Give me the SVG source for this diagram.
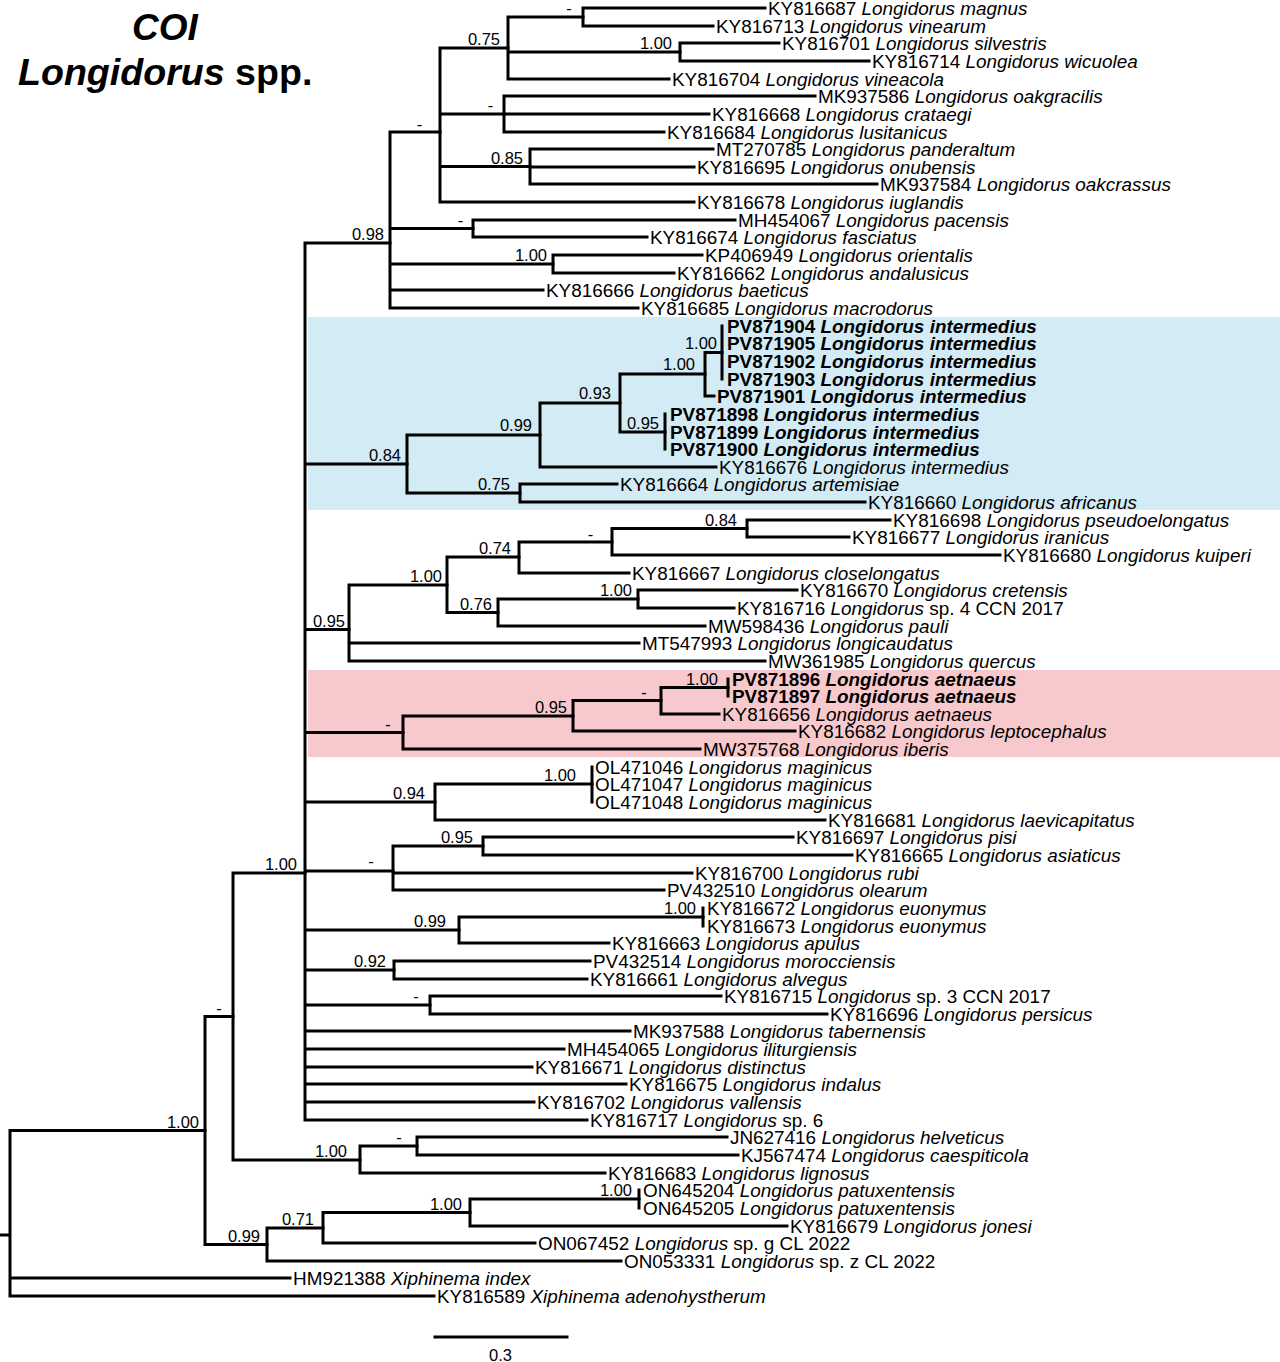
<svg xmlns="http://www.w3.org/2000/svg" width="1280" height="1362" viewBox="0 0 1280 1362">
<style>
.br{fill:none;stroke:#000;stroke-width:3;stroke-linecap:square}
text{font-family:"Liberation Sans",Arial,Helvetica,sans-serif;fill:#000}
.t{font-size:18.9px}
.i{font-style:italic}
.b{font-weight:bold}
.s{font-size:16.5px;text-anchor:end}
.d{font-size:16.5px;text-anchor:middle}
.ti{font-size:37px;font-weight:bold}
</style>
<rect x="308" y="317" width="972" height="193" fill="#d3ebf5"/>
<rect x="308" y="670" width="972" height="87" fill="#f8c9cc"/>
<g id="title">
<text class="ti i" x="165" y="40" text-anchor="middle">COI</text>
<text class="ti" x="18" y="85" style="font-size:37.6px"><tspan class="i">Longidorus</tspan> spp.</text>
</g>
<g id="connectors" class="br">
<path d="M0,1235H10M10,1130.5V1296M10,1130.5H205M10,1278H290M10,1296H434"/>
<path d="M205,1016.5V1244.5M205,1016.5H233M205,1244.5H267"/>
<path d="M233,873V1160M233,873H305M233,1160H360"/>
<path d="M305,243V1120M305,243H390M305,464H407M305,629.5H349M305,732.5H403M305,802H435M305,871H393M305,930H459M305,970H394M305,1005H430M305,1031H630M305,1049H564M305,1067H532M305,1084H626M305,1102H534M305,1120H587"/>
<path d="M390,132V308M390,132H440M390,228.5H473M390,264H553M390,290H543M390,308H638"/>
<path d="M440,48V202M440,48H508M440,114H504M440,166.5H530M440,202H694"/>
<path d="M508,17V79M508,17H583M508,52H680M508,79H669"/>
<path d="M583,8V26M583,8H765M583,26H713"/>
<path d="M680,43V61M680,43H779M680,61H869"/>
<path d="M504,96V132M504,96H815M504,114H709M504,132H664"/>
<path d="M530,149V184M530,149H713M530,167H694M530,184H877"/>
<path d="M473,220V237M473,220H735M473,237H647"/>
<path d="M553,255V273M553,255H702M553,273H674"/>
<path d="M407,435V493M407,435H540M407,493H520"/>
<path d="M540,403V467M540,403H620M540,467H716"/>
<path d="M620,374V432M620,374H705M620,432H665"/>
<path d="M705,352.5V396M705,352.5H722M705,396H714"/>
<path d="M722,326V379"/>
<path d="M665,414V449"/>
<path d="M520,484V502M520,484H617M520,502H865"/>
<path d="M349,585V661M349,585H447M349,643H639M349,661H765"/>
<path d="M447,557V612.5M447,557H519M447,612.5H498"/>
<path d="M519,542V573M519,542H612M519,573H629"/>
<path d="M612,528.5V555M612,528.5H747M612,555H1000"/>
<path d="M747,520V537M747,520H890M747,537H849"/>
<path d="M498,599V626M498,599H638M498,626H705"/>
<path d="M638,590V608M638,590H797M638,608H734"/>
<path d="M403,716V749M403,716H573M403,749H700"/>
<path d="M573,700.5V731M573,700.5H661M573,731H795"/>
<path d="M661,687.5V714M661,687.5H728M661,714H719"/>
<path d="M728,679V696"/>
<path d="M435,784V820M435,784H592M435,820H825"/>
<path d="M592,767V802"/>
<path d="M393,846V890M393,846H483M393,873H692M393,890H664"/>
<path d="M483,837V855M483,837H793M483,855H852"/>
<path d="M459,917V943M459,917H703M459,943H609"/>
<path d="M703,908V926"/>
<path d="M394,961V979M394,961H590M394,979H587"/>
<path d="M430,996V1014M430,996H721M430,1014H827"/>
<path d="M360,1146V1173M360,1146H417M360,1173H605"/>
<path d="M417,1137V1155M417,1137H727M417,1155H738"/>
<path d="M267,1228V1261M267,1228H323M267,1261H621"/>
<path d="M323,1212.5V1243M323,1212.5H470M323,1243H535"/>
<path d="M470,1199V1226M470,1199H639M470,1226H787"/>
<path d="M639,1190V1208"/>
</g>
<g id="supports">
<g id="nA"><text class="s" x="199" y="1127.5">1.00</text></g>
<g id="nB"><text class="d" x="219" y="1013.5">-</text></g>
<g id="nC"><text class="s" x="297" y="870">1.00</text></g>
<g id="n098"><text class="s" x="384" y="240">0.98</text></g>
<g id="n440"><text class="d" x="419.5" y="130">-</text></g>
<g id="n508"><text class="s" x="500" y="45">0.75</text></g>
<g id="n583"><text class="d" x="569" y="14">-</text></g>
<g id="n680"><text class="s" x="672" y="49">1.00</text></g>
<g id="n504"><text class="d" x="490.5" y="111">-</text></g>
<g id="n530"><text class="s" x="523" y="163.5">0.85</text></g>
<g id="n473"><text class="d" x="460.5" y="225.5">-</text></g>
<g id="n553"><text class="s" x="547" y="261">1.00</text></g>
<g id="n407"><text class="s" x="401" y="461">0.84</text></g>
<g id="n540"><text class="s" x="532" y="431">0.99</text></g>
<g id="n620"><text class="s" x="611" y="399">0.93</text></g>
<g id="n705"><text class="s" x="695" y="370">1.00</text></g>
<g id="n722"><text class="s" x="717" y="349">1.00</text></g>
<g id="n665"><text class="s" x="659" y="429">0.95</text></g>
<g id="n520"><text class="s" x="510" y="490">0.75</text></g>
<g id="n349"><text class="s" x="345" y="626.5">0.95</text></g>
<g id="n447"><text class="s" x="442" y="582">1.00</text></g>
<g id="n519"><text class="s" x="511" y="554">0.74</text></g>
<g id="n612"><text class="d" x="590.5" y="539.5">-</text></g>
<g id="n747"><text class="s" x="737" y="525.5">0.84</text></g>
<g id="n498"><text class="s" x="492" y="609.5">0.76</text></g>
<g id="n638"><text class="s" x="632" y="596">1.00</text></g>
<g id="n403"><text class="d" x="388" y="729.5">-</text></g>
<g id="n573"><text class="s" x="567" y="713">0.95</text></g>
<g id="n661"><text class="d" x="644" y="697.5">-</text></g>
<g id="n728"><text class="s" x="718" y="684.5">1.00</text></g>
<g id="n435"><text class="s" x="425" y="799">0.94</text></g>
<g id="n592"><text class="s" x="576" y="781">1.00</text></g>
<g id="n393"><text class="d" x="371" y="867">-</text></g>
<g id="n483"><text class="s" x="473" y="843">0.95</text></g>
<g id="n459"><text class="s" x="446" y="927">0.99</text></g>
<g id="n703"><text class="s" x="696" y="914">1.00</text></g>
<g id="n394"><text class="s" x="386" y="967">0.92</text></g>
<g id="n430"><text class="d" x="416" y="1002">-</text></g>
<g id="n360"><text class="s" x="347" y="1156.5">1.00</text></g>
<g id="n417"><text class="d" x="399" y="1143">-</text></g>
<g id="n267"><text class="s" x="260" y="1241.5">0.99</text></g>
<g id="n323"><text class="s" x="314" y="1225">0.71</text></g>
<g id="n470"><text class="s" x="462" y="1209.5">1.00</text></g>
<g id="n639"><text class="s" x="632" y="1196">1.00</text></g>
</g>
<g id="leaves" class="t">
<g id="L01"><text class="t" x="768" y="14.5">KY816687 <tspan class="i">Longidorus magnus</tspan></text></g>
<g id="L02"><text class="t" x="716" y="32.5">KY816713 <tspan class="i">Longidorus vinearum</tspan></text></g>
<g id="L03"><text class="t" x="782" y="49.5">KY816701 <tspan class="i">Longidorus silvestris</tspan></text></g>
<g id="L04"><text class="t" x="872" y="67.5">KY816714 <tspan class="i">Longidorus wicuolea</tspan></text></g>
<g id="L05"><text class="t" x="672" y="85.5">KY816704 <tspan class="i">Longidorus vineacola</tspan></text></g>
<g id="L06"><text class="t" x="818" y="102.5">MK937586 <tspan class="i">Longidorus oakgracilis</tspan></text></g>
<g id="L07"><text class="t" x="712" y="120.5">KY816668 <tspan class="i">Longidorus crataegi</tspan></text></g>
<g id="L08"><text class="t" x="667" y="138.5">KY816684 <tspan class="i">Longidorus lusitanicus</tspan></text></g>
<g id="L09"><text class="t" x="716" y="155.5">MT270785 <tspan class="i">Longidorus panderaltum</tspan></text></g>
<g id="L10"><text class="t" x="697" y="173.5">KY816695 <tspan class="i">Longidorus onubensis</tspan></text></g>
<g id="L11"><text class="t" x="880" y="190.5">MK937584 <tspan class="i">Longidorus oakcrassus</tspan></text></g>
<g id="L12"><text class="t" x="697" y="208.5">KY816678 <tspan class="i">Longidorus iuglandis</tspan></text></g>
<g id="L13"><text class="t" x="738" y="226.5">MH454067 <tspan class="i">Longidorus pacensis</tspan></text></g>
<g id="L14"><text class="t" x="650" y="243.5">KY816674 <tspan class="i">Longidorus fasciatus</tspan></text></g>
<g id="L15"><text class="t" x="705" y="261.5">KP406949 <tspan class="i">Longidorus orientalis</tspan></text></g>
<g id="L16"><text class="t" x="677" y="279.5">KY816662 <tspan class="i">Longidorus andalusicus</tspan></text></g>
<g id="L17"><text class="t" x="546" y="296.5">KY816666 <tspan class="i">Longidorus baeticus</tspan></text></g>
<g id="L18"><text class="t" x="641" y="314.5">KY816685 <tspan class="i">Longidorus macrodorus</tspan></text></g>
<g id="L19"><text class="t b" x="727" y="332.5">PV871904 <tspan class="i">Longidorus intermedius</tspan></text></g>
<g id="L20"><text class="t b" x="727" y="349.5">PV871905 <tspan class="i">Longidorus intermedius</tspan></text></g>
<g id="L21"><text class="t b" x="727" y="367.5">PV871902 <tspan class="i">Longidorus intermedius</tspan></text></g>
<g id="L22"><text class="t b" x="727" y="385.5">PV871903 <tspan class="i">Longidorus intermedius</tspan></text></g>
<g id="L23"><text class="t b" x="717" y="402.5">PV871901 <tspan class="i">Longidorus intermedius</tspan></text></g>
<g id="L24"><text class="t b" x="670" y="420.5">PV871898 <tspan class="i">Longidorus intermedius</tspan></text></g>
<g id="L25"><text class="t b" x="670" y="438.5">PV871899 <tspan class="i">Longidorus intermedius</tspan></text></g>
<g id="L26"><text class="t b" x="670" y="455.5">PV871900 <tspan class="i">Longidorus intermedius</tspan></text></g>
<g id="L27"><text class="t" x="719" y="473.5">KY816676 <tspan class="i">Longidorus intermedius</tspan></text></g>
<g id="L28"><text class="t" x="620" y="490.5">KY816664 <tspan class="i">Longidorus artemisiae</tspan></text></g>
<g id="L29"><text class="t" x="868" y="508.5">KY816660 <tspan class="i">Longidorus africanus</tspan></text></g>
<g id="L30"><text class="t" x="893" y="526.5">KY816698 <tspan class="i">Longidorus pseudoelongatus</tspan></text></g>
<g id="L31"><text class="t" x="852" y="543.5">KY816677 <tspan class="i">Longidorus iranicus</tspan></text></g>
<g id="L32"><text class="t" x="1003" y="561.5">KY816680 <tspan class="i">Longidorus kuiperi</tspan></text></g>
<g id="L33"><text class="t" x="632" y="579.5">KY816667 <tspan class="i">Longidorus closelongatus</tspan></text></g>
<g id="L34"><text class="t" x="800" y="596.5">KY816670 <tspan class="i">Longidorus cretensis</tspan></text></g>
<g id="L35"><text class="t" x="737" y="614.5">KY816716 <tspan class="i">Longidorus</tspan> sp. 4 CCN 2017</text></g>
<g id="L36"><text class="t" x="708" y="632.5">MW598436 <tspan class="i">Longidorus pauli</tspan></text></g>
<g id="L37"><text class="t" x="642" y="649.5">MT547993 <tspan class="i">Longidorus longicaudatus</tspan></text></g>
<g id="L38"><text class="t" x="768" y="667.5">MW361985 <tspan class="i">Longidorus quercus</tspan></text></g>
<g id="L39"><text class="t b" x="732" y="685.5">PV871896 <tspan class="i">Longidorus aetnaeus</tspan></text></g>
<g id="L40"><text class="t b" x="732" y="702.5">PV871897 <tspan class="i">Longidorus aetnaeus</tspan></text></g>
<g id="L41"><text class="t" x="722" y="720.5">KY816656 <tspan class="i">Longidorus aetnaeus</tspan></text></g>
<g id="L42"><text class="t" x="798" y="737.5">KY816682 <tspan class="i">Longidorus leptocephalus</tspan></text></g>
<g id="L43"><text class="t" x="703" y="755.5">MW375768 <tspan class="i">Longidorus iberis</tspan></text></g>
<g id="L44"><text class="t" x="595" y="773.5">OL471046 <tspan class="i">Longidorus maginicus</tspan></text></g>
<g id="L45"><text class="t" x="595" y="790.5">OL471047 <tspan class="i">Longidorus maginicus</tspan></text></g>
<g id="L46"><text class="t" x="595" y="808.5">OL471048 <tspan class="i">Longidorus maginicus</tspan></text></g>
<g id="L47"><text class="t" x="828" y="826.5">KY816681 <tspan class="i">Longidorus laevicapitatus</tspan></text></g>
<g id="L48"><text class="t" x="796" y="843.5">KY816697 <tspan class="i">Longidorus pisi</tspan></text></g>
<g id="L49"><text class="t" x="855" y="861.5">KY816665 <tspan class="i">Longidorus asiaticus</tspan></text></g>
<g id="L50"><text class="t" x="695" y="879.5">KY816700 <tspan class="i">Longidorus rubi</tspan></text></g>
<g id="L51"><text class="t" x="667" y="896.5">PV432510 <tspan class="i">Longidorus olearum</tspan></text></g>
<g id="L52"><text class="t" x="707" y="914.5">KY816672 <tspan class="i">Longidorus euonymus</tspan></text></g>
<g id="L53"><text class="t" x="707" y="932.5">KY816673 <tspan class="i">Longidorus euonymus</tspan></text></g>
<g id="L54"><text class="t" x="612" y="949.5">KY816663 <tspan class="i">Longidorus apulus</tspan></text></g>
<g id="L55"><text class="t" x="593" y="967.5">PV432514 <tspan class="i">Longidorus morocciensis</tspan></text></g>
<g id="L56"><text class="t" x="590" y="985.5">KY816661 <tspan class="i">Longidorus alvegus</tspan></text></g>
<g id="L57"><text class="t" x="724" y="1002.5">KY816715 <tspan class="i">Longidorus</tspan> sp. 3 CCN 2017</text></g>
<g id="L58"><text class="t" x="830" y="1020.5">KY816696 <tspan class="i">Longidorus persicus</tspan></text></g>
<g id="L59"><text class="t" x="633" y="1037.5">MK937588 <tspan class="i">Longidorus tabernensis</tspan></text></g>
<g id="L60"><text class="t" x="567" y="1055.5">MH454065 <tspan class="i">Longidorus iliturgiensis</tspan></text></g>
<g id="L61"><text class="t" x="535" y="1073.5">KY816671 <tspan class="i">Longidorus distinctus</tspan></text></g>
<g id="L62"><text class="t" x="629" y="1090.5">KY816675 <tspan class="i">Longidorus indalus</tspan></text></g>
<g id="L63"><text class="t" x="537" y="1108.5">KY816702 <tspan class="i">Longidorus vallensis</tspan></text></g>
<g id="L64"><text class="t" x="590" y="1126.5">KY816717 <tspan class="i">Longidorus</tspan> sp. 6</text></g>
<g id="L65"><text class="t" x="730" y="1143.5">JN627416 <tspan class="i">Longidorus helveticus</tspan></text></g>
<g id="L66"><text class="t" x="741" y="1161.5">KJ567474 <tspan class="i">Longidorus caespiticola</tspan></text></g>
<g id="L67"><text class="t" x="608" y="1179.5">KY816683 <tspan class="i">Longidorus lignosus</tspan></text></g>
<g id="L68"><text class="t" x="643" y="1196.5">ON645204 <tspan class="i">Longidorus patuxentensis</tspan></text></g>
<g id="L69"><text class="t" x="643" y="1214.5">ON645205 <tspan class="i">Longidorus patuxentensis</tspan></text></g>
<g id="L70"><text class="t" x="790" y="1232.5">KY816679 <tspan class="i">Longidorus jonesi</tspan></text></g>
<g id="L71"><text class="t" x="538" y="1249.5">ON067452 <tspan class="i">Longidorus</tspan> sp. g CL 2022</text></g>
<g id="L72"><text class="t" x="624" y="1267.5">ON053331 <tspan class="i">Longidorus</tspan> sp. z CL 2022</text></g>
<g id="L73"><text class="t" x="293" y="1284.5">HM921388 <tspan class="i">Xiphinema index</tspan></text></g>
<g id="L74"><text class="t" x="437" y="1302.5">KY816589 <tspan class="i">Xiphinema adenohystherum</tspan></text></g>
</g>
<g id="scale">
<path class="br" d="M435,1337H567" stroke-linecap="butt"/>
<text class="d" x="500.5" y="1361">0.3</text>
</g>
</svg>
